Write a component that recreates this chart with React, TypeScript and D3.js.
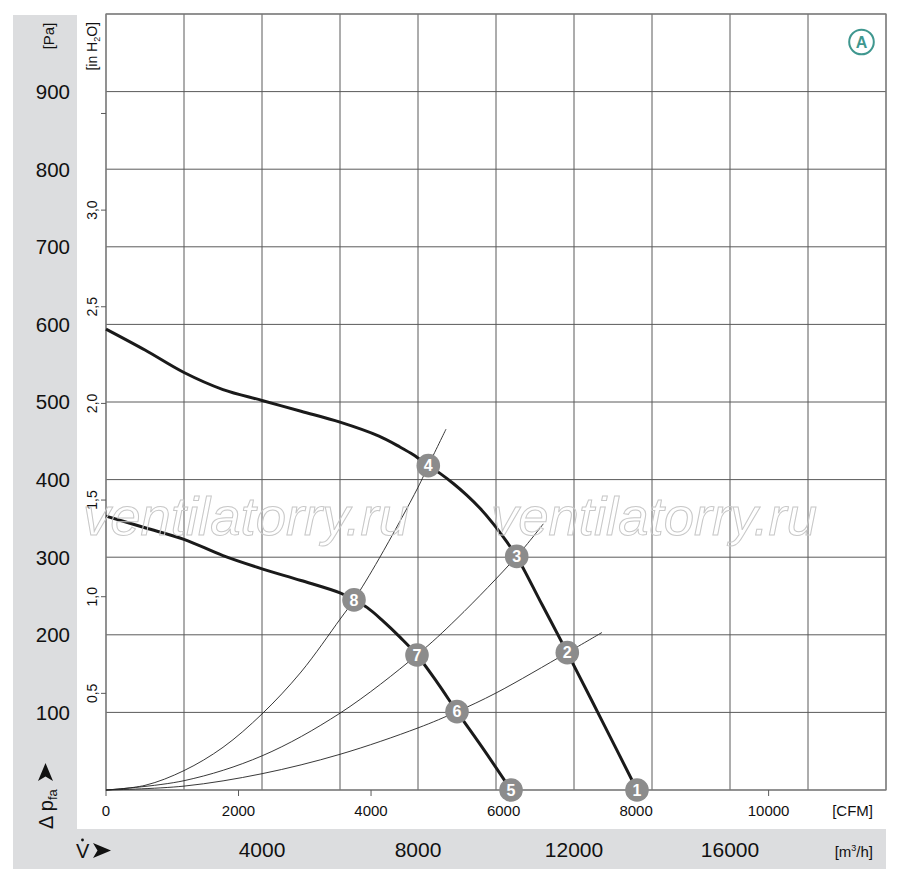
import React from 'react'
import * as d3 from 'd3'

// fan curves, values: [m³/h, Pa]
const curveHigh: [number, number][] = [
  [0, 594], [1000, 567], [2000, 538], [3000, 516], [4000, 502], [5000, 488],
  [6000, 474], [7000, 456], [7538, 442], [7880, 432], [8264, 418], [8564, 408],
  [8905, 395], [9249, 380], [9590, 363], [9931, 343], [10274, 320], [10531, 301],
  [11180, 239], [11828, 177], [12700, 91], [13615, 0],
]
const curveLow: [number, number][] = [
  [0, 353], [1000, 338], [2000, 323], [3000, 302], [4000, 285], [5000, 270],
  [6000, 254], [6359, 245], [6700, 235], [7100, 218], [7538, 197], [7974, 174],
  [8500, 138], [9000, 101], [9700, 51], [10385, 0],
]
// system resistance lines
const systemA: [number, number][] = [
  [0, 0], [1000, 6], [2000, 25], [3000, 55], [4000, 98], [5000, 152], [6000, 220],
  [6359, 245], [7000, 298], [8000, 390], [8264, 418], [8718, 465],
]
const systemB: [number, number][] = [
  [0, 0], [2000, 12], [4000, 44], [6000, 99], [7974, 174], [9000, 221],
  [10531, 301], [11213, 343],
]
const systemC: [number, number][] = [
  [0, 0], [2000, 5], [4000, 21], [6000, 46], [8000, 80], [9000, 101],
  [10000, 125], [11828, 177], [12718, 203],
]
const markers = [
  { id: 1, q: 13615, pa: 0 },
  { id: 2, q: 11828, pa: 177 },
  { id: 3, q: 10531, pa: 301 },
  { id: 4, q: 8264, pa: 418 },
  { id: 5, q: 10385, pa: 0 },
  { id: 6, q: 9000, pa: 101 },
  { id: 7, q: 7974, pa: 174 },
  { id: 8, q: 6359, pa: 245 },
]

const paTicks = [100, 200, 300, 400, 500, 600, 700, 800, 900]
const inH2OTicks = [0.5, 1.0, 1.5, 2.0, 2.5, 3.0, 3.5]
const cfmTicks = [0, 2000, 4000, 6000, 8000, 10000]
const m3hLabels = [4000, 8000, 12000, 16000]

const PA_PER_INH2O = 249.09
const M3H_PER_CFM = 1.699

const FONT = "'Liberation Sans', Arial, sans-serif"
const BAND = '#dcdddf'
const GRID = '#5a5a5a'

const App: React.FC = () => {
  const width = 900
  const height = 880
  const X0 = 106, X1 = 886, Y0 = 14, Y1 = 790

  const x = d3.scaleLinear().domain([0, 20000]).range([X0, X1])
  const y = d3.scaleLinear().domain([0, 1000]).range([Y1, Y0])

  const line = d3.line<[number, number]>()
    .x(d => x(d[0]))
    .y(d => y(d[1]))
    .curve(d3.curveCatmullRom.alpha(0.5))

  const gridX = d3.range(0, 20001, 2000)
  const gridY = d3.range(0, 1001, 100)

  return (
    <svg width={width} height={height} style={{ display: 'block', position: 'absolute', left: 0, top: 0 }}
      fontFamily={FONT}>
      <rect x={0} y={0} width={width} height={height} fill="#fff" />

      {/* gray bands */}
      <rect x={13} y={15} width={64} height={854} fill={BAND} />
      <rect x={13} y={829} width={873} height={40} fill={BAND} />

      {/* grid */}
      {gridX.map(v => (
        <line key={'gx' + v} x1={x(v)} x2={x(v)} y1={Y0} y2={Y1} stroke={GRID} strokeWidth={1} />
      ))}
      {gridY.map(v => (
        <line key={'gy' + v} x1={X0} x2={X1} y1={y(v)} y2={y(v)} stroke={GRID} strokeWidth={1} />
      ))}
      <rect x={X0} y={Y0} width={X1 - X0} height={Y1 - Y0} fill="none" stroke="#808080" strokeWidth={1.2} />

      {/* Pa labels */}
      {paTicks.map(v => (
        <text key={'pa' + v} x={70} y={y(v)} dy="0.36em" textAnchor="end" fontSize={20.5}
          fill="#111">{v}</text>
      ))}
      <text transform="translate(54,36) rotate(-90)" textAnchor="middle" fontSize={15} fill="#111">[Pa]</text>

      {/* in H2O axis */}
      {inH2OTicks.map(v => (
        <g key={'in' + v}>
          <line x1={X0 - 5} x2={X0} y1={y(v * PA_PER_INH2O)} y2={y(v * PA_PER_INH2O)} stroke={GRID} />
          {v < 3.5 && (
            <text transform={`translate(97,${y(v * PA_PER_INH2O)}) rotate(-90)`} textAnchor="middle"
              fontSize={14} fill="#111">{v.toFixed(1).replace('.', ',')}</text>
          )}
        </g>
      ))}
      <text transform="translate(97,22) rotate(-90)" textAnchor="end" fontSize={14} fill="#111">
        [in H<tspan fontSize={9} dy={3}>2</tspan><tspan dy={-3}>O]</tspan>
      </text>

      {/* CFM axis */}
      {cfmTicks.map(v => (
        <g key={'cfm' + v}>
          <line x1={x(v * M3H_PER_CFM)} x2={x(v * M3H_PER_CFM)} y1={Y1} y2={Y1 + 6} stroke={GRID} />
          <text x={x(v * M3H_PER_CFM)} y={816} textAnchor="middle" fontSize={15} fill="#111">{v}</text>
        </g>
      ))}
      <text x={873} y={816} textAnchor="end" fontSize={15} fill="#111">[CFM]</text>

      {/* m3/h labels */}
      {m3hLabels.map(v => (
        <text key={'m' + v} x={x(v)} y={857} textAnchor="middle" fontSize={21}
          fill="#111">{v}</text>
      ))}
      <text x={873} y={857} textAnchor="end" fontSize={15} fill="#111">
        [m<tspan fontSize={9} dy={-6}>3</tspan><tspan dy={6}>/h]</tspan>
      </text>

      {/* V-dot with arrow */}
      <text x={76} y={858} fontSize={20} fill="#111">V</text>
      <circle cx={82.5} cy={840} r={1.4} fill="#111" />
      <path d="M93,843 L111,850.5 L93,858 L97.5,850.5 Z" fill="#111" />

      {/* delta p_fa with arrow */}
      <text transform="translate(53,829) rotate(-90)" fontSize={20} fill="#111">
        Δ p<tspan fontSize={13} dy={4}>fa</tspan>
      </text>
      <path d="M38,781 L45.5,763 L53,781 L45.5,776.5 Z" fill="#111" />

      {/* system lines */}
      {[systemA, systemB, systemC].map((s, i) => (
        <path key={'sys' + i} d={line(s) ?? ''} fill="none" stroke="#222" strokeWidth={0.9} />
      ))}

      {/* fan curves */}
      {[curveHigh, curveLow].map((c, i) => (
        <path key={'fc' + i} d={line(c) ?? ''} fill="none" stroke="#1a1a1a" strokeWidth={3} />
      ))}

      {/* operating points */}
      {markers.map(m => (
        <g key={'mk' + m.id}>
          <circle cx={x(m.q)} cy={y(m.pa)} r={11.8} fill="#8c8c8c" />
          <text x={x(m.q)} y={y(m.pa)} dy="0.36em" textAnchor="middle" fontSize={16} fontWeight="bold"
            fill="#fff">{m.id}</text>
        </g>
      ))}

      {/* watermark */}
      {[83, 491].map(wx => (
        <text key={'wm' + wx} x={wx} y={535} fontSize={53} fontStyle="italic"
          fill="none" stroke="#c8c8c8" strokeWidth={1}
          textLength={326} lengthAdjust="spacingAndGlyphs">ventilatorry.ru</text>
      ))}

      {/* logo A */}
      <circle cx={861.5} cy={42} r={12.3} fill="#fff" stroke="#3f978f" strokeWidth={2} />
      <text x={861.5} y={42} dy="0.36em" textAnchor="middle" fontSize={16} fontWeight="bold"
        fill="#3f978f">A</text>
    </svg>
  )
}

export default App
